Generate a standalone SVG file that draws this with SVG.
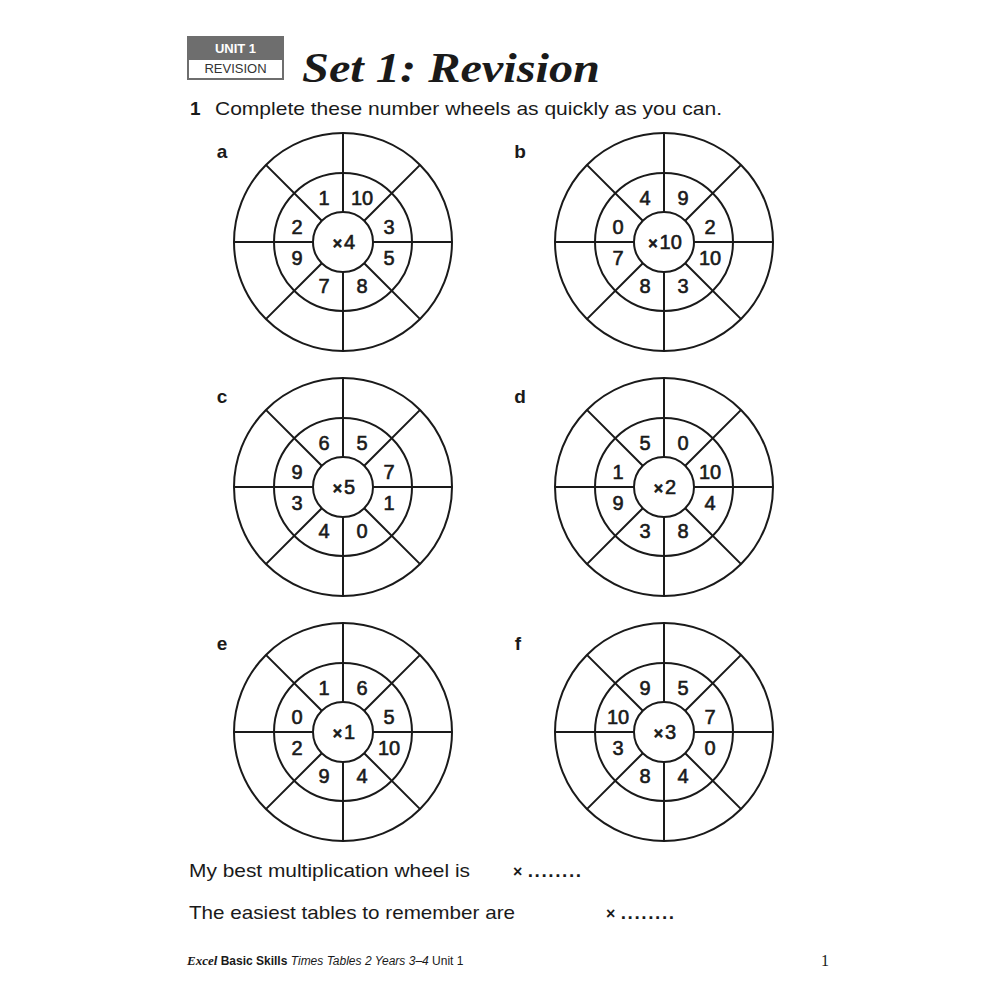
<svg xmlns="http://www.w3.org/2000/svg" xmlns:xlink="http://www.w3.org/1999/xlink" width="1000" height="1000" viewBox="0 0 1000 1000">
<style>
.ln{fill:none;stroke:#1a1a1a;stroke-width:2}
.n{font-family:"Liberation Sans",Arial,sans-serif;font-size:20px;fill:#1a1a1a;stroke:#1a1a1a;stroke-width:0.6;text-anchor:middle}
.x{font-size:16px;font-weight:bold}
.lbl{font-family:"Liberation Sans",Arial,sans-serif;font-size:19px;font-weight:bold;fill:#1a1a1a;text-anchor:middle}
.body{font-family:"Liberation Sans",Arial,sans-serif;font-size:19px;fill:#1a1a1a}
.dots{letter-spacing:1.6px}
.ft{font-family:"Liberation Sans",Arial,sans-serif;font-size:12px;fill:#1a1a1a}
</style>
<defs>
<g id="wheel">
<circle class="ln" cx="0" cy="0" r="109"/>
<circle class="ln" cx="0" cy="0" r="69"/>
<circle class="ln" cx="0" cy="0" r="30"/>
<path class="ln" d="M0,-30V-109M0,30V109M30,0H109M-30,0H-109M21.2,-21.2L77.1,-77.1M-21.2,-21.2L-77.1,-77.1M21.2,21.2L77.1,77.1M-21.2,21.2L-77.1,77.1"/>
</g>
</defs>
<rect width="1000" height="1000" fill="#ffffff"/>

<g id="header">
<rect x="188" y="37" width="95" height="22" fill="#6e6e6e" stroke="#6e6e6e" stroke-width="2"/>
<rect x="188" y="59" width="95" height="20" fill="#ffffff" stroke="#6e6e6e" stroke-width="2"/>
<text x="235.5" y="53" font-family="Liberation Sans,Arial,sans-serif" font-size="13" font-weight="bold" fill="#ffffff" text-anchor="middle">UNIT 1</text>
<text x="235.5" y="73" font-family="Liberation Sans,Arial,sans-serif" font-size="13" fill="#333333" text-anchor="middle">REVISION</text>
<text x="302" y="82" font-family="Liberation Serif,'Times New Roman',serif" font-size="43" font-weight="bold" font-style="italic" fill="#1a1a1a" textLength="298" lengthAdjust="spacingAndGlyphs">Set 1: Revision</text>
<text x="190" y="115" class="body" font-weight="bold">1</text>
<text x="215" y="115" class="body" textLength="507" lengthAdjust="spacingAndGlyphs">Complete these number wheels as quickly as you can.</text>
</g>

<g id="wheel-a">
<text class="lbl" x="222" y="158">a</text>
<use xlink:href="#wheel" x="343" y="242"/>
<g class="n" transform="translate(343,242)">
<text x="-19" y="-37">1</text><text x="19" y="-37">10</text><text x="46" y="-8">3</text><text x="46" y="23">5</text>
<text x="19" y="51">8</text><text x="-19" y="51">7</text><text x="-46" y="23">9</text><text x="-46" y="-8">2</text>
<text x="1" y="7"><tspan class="x">×</tspan><tspan dx="2">4</tspan></text>
</g>
</g>

<g id="wheel-b">
<text class="lbl" x="520" y="158">b</text>
<use xlink:href="#wheel" x="664" y="242"/>
<g class="n" transform="translate(664,242)">
<text x="-19" y="-37">4</text><text x="19" y="-37">9</text><text x="46" y="-8">2</text><text x="46" y="23">10</text>
<text x="19" y="51">3</text><text x="-19" y="51">8</text><text x="-46" y="23">7</text><text x="-46" y="-8">0</text>
<text x="1" y="7"><tspan class="x">×</tspan><tspan dx="2">10</tspan></text>
</g>
</g>

<g id="wheel-c">
<text class="lbl" x="222" y="403">c</text>
<use xlink:href="#wheel" x="343" y="487"/>
<g class="n" transform="translate(343,487)">
<text x="-19" y="-37">6</text><text x="19" y="-37">5</text><text x="46" y="-8">7</text><text x="46" y="23">1</text>
<text x="19" y="51">0</text><text x="-19" y="51">4</text><text x="-46" y="23">3</text><text x="-46" y="-8">9</text>
<text x="1" y="7"><tspan class="x">×</tspan><tspan dx="2">5</tspan></text>
</g>
</g>

<g id="wheel-d">
<text class="lbl" x="520" y="403">d</text>
<use xlink:href="#wheel" x="664" y="487"/>
<g class="n" transform="translate(664,487)">
<text x="-19" y="-37">5</text><text x="19" y="-37">0</text><text x="46" y="-8">10</text><text x="46" y="23">4</text>
<text x="19" y="51">8</text><text x="-19" y="51">3</text><text x="-46" y="23">9</text><text x="-46" y="-8">1</text>
<text x="1" y="7"><tspan class="x">×</tspan><tspan dx="2">2</tspan></text>
</g>
</g>

<g id="wheel-e">
<text class="lbl" x="222" y="650">e</text>
<use xlink:href="#wheel" x="343" y="732"/>
<g class="n" transform="translate(343,732)">
<text x="-19" y="-37">1</text><text x="19" y="-37">6</text><text x="46" y="-8">5</text><text x="46" y="23">10</text>
<text x="19" y="51">4</text><text x="-19" y="51">9</text><text x="-46" y="23">2</text><text x="-46" y="-8">0</text>
<text x="1" y="7"><tspan class="x">×</tspan><tspan dx="2">1</tspan></text>
</g>
</g>

<g id="wheel-f">
<text class="lbl" x="518" y="650">f</text>
<use xlink:href="#wheel" x="664" y="732"/>
<g class="n" transform="translate(664,732)">
<text x="-19" y="-37">9</text><text x="19" y="-37">5</text><text x="46" y="-8">7</text><text x="46" y="23">0</text>
<text x="19" y="51">4</text><text x="-19" y="51">8</text><text x="-46" y="23">3</text><text x="-46" y="-8">10</text>
<text x="1" y="7"><tspan class="x">×</tspan><tspan dx="2">3</tspan></text>
</g>
</g>

<g id="questions">
<text class="body" x="189" y="877" textLength="281" lengthAdjust="spacingAndGlyphs">My best multiplication wheel is</text>
<text class="body" x="513" y="877" font-weight="bold"><tspan font-size="16">×</tspan> <tspan class="dots">........</tspan></text>
<text class="body" x="189" y="919" textLength="326" lengthAdjust="spacingAndGlyphs">The easiest tables to remember are</text>
<text class="body" x="606" y="919" font-weight="bold"><tspan font-size="16">×</tspan> <tspan class="dots">........</tspan></text>
</g>

<g id="footer">
<text class="ft" x="187" y="965"><tspan font-family="Liberation Serif,'Times New Roman',serif" font-weight="bold" font-style="italic" font-size="13">Excel</tspan> <tspan font-weight="bold">Basic Skills</tspan> <tspan font-style="italic">Times Tables 2 Years</tspan> <tspan font-style="italic">3–4</tspan> Unit 1</text>
<text x="825" y="966" font-family="Liberation Serif,'Times New Roman',serif" font-size="16" fill="#1a1a1a" text-anchor="middle">1</text>
</g>
</svg>
